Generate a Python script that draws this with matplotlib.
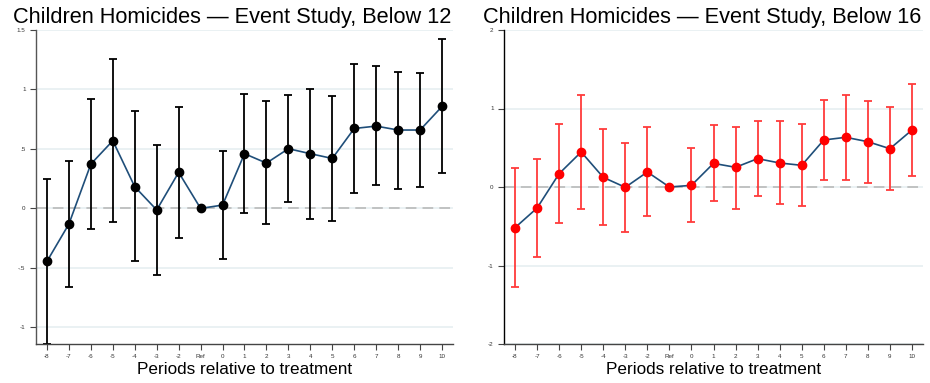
import matplotlib
matplotlib.use("Agg")
import matplotlib.pyplot as plt
import numpy as np

plt.rcParams['font.family'] = ['Liberation Sans', 'DejaVu Sans']

periods = [-8, -7, -6, -5, -4, -3, -2, -1, 0, 1, 2, 3, 4, 5, 6, 7, 8, 9, 10]
period_labels = ["-8", "-7", "-6", "-5", "-4", "-3", "-2", "Ref", "0",
                 "1", "2", "3", "4", "5", "6", "7", "8", "9", "10"]

# Below 12
coef12 = [-0.445, -0.131, 0.373, 0.569, 0.182, -0.013, 0.303, 0.0, 0.028,
          0.460, 0.381, 0.502, 0.460, 0.420, 0.672, 0.692, 0.659, 0.659, 0.857]
hi12 = [0.247, 0.395, 0.922, 1.255, 0.815, 0.535, 0.855, np.nan, 0.485,
        0.964, 0.902, 0.953, 1.008, 0.941, 1.218, 1.197, 1.146, 1.138, 1.424]
lo12 = [-1.14, -0.658, -0.176, -0.118, -0.445, -0.560, -0.246, np.nan, -0.428,
        -0.039, -0.134, 0.054, -0.087, -0.109, 0.126, 0.193, 0.166, 0.176, 0.294]

# Below 16
coef16 = [-0.518, -0.268, 0.170, 0.446, 0.123, -0.004, 0.191, 0.0, 0.021,
          0.301, 0.251, 0.361, 0.306, 0.276, 0.599, 0.633, 0.577, 0.488, 0.726]
hi16 = [0.246, 0.361, 0.803, 1.176, 0.739, 0.556, 0.760, np.nan, 0.493,
        0.786, 0.769, 0.837, 0.837, 0.798, 1.113, 1.168, 1.100, 1.015, 1.312]
lo16 = [-1.278, -0.887, -0.463, -0.280, -0.488, -0.569, -0.369, np.nan, -0.450,
        -0.183, -0.276, -0.110, -0.217, -0.242, 0.085, 0.093, 0.055, -0.042, 0.140]

yticks12 = [-1, -0.5, 0, 0.5, 1, 1.5]
ylabels12 = ["-1", "-.5", "0", ".5", "1", "1.5"]
yticks16 = [-2, -1, 0, 1, 2]
ylabels16 = ["-2", "-1", "0", "1", "2"]

W, H = 930, 383
fig = plt.figure(figsize=(W / 100, H / 100), dpi=100)


def panel(rect, coef, lo, hi, color, ecolor, ylim, yticks, ylabels, title, tx, spine):
    ax = fig.add_axes([rect[0] / W, 1 - rect[3] / H, (rect[2] - rect[0]) / W,
                       (rect[3] - rect[1]) / H])
    x = np.array(periods)
    c = np.array(coef)
    lo = np.array(lo)
    hi = np.array(hi)
    for yt in yticks:
        ax.axhline(yt, color="#e6eff1", lw=1.2, zorder=0)
    ax.axhline(0, color="#b5b5b5", lw=1.1, ls=(0, (7, 4)), zorder=1)
    ok = ~np.isnan(lo)
    ax.errorbar(x[ok], c[ok], yerr=[c[ok] - lo[ok], hi[ok] - c[ok]], fmt="none",
                ecolor=ecolor, elinewidth=1.3, capsize=3.2, capthick=1.3, zorder=2)
    ax.plot(x, c, color="#1f4e79", lw=1.2, zorder=3)
    ax.plot(x, c, "o", color=color, ms=6, zorder=4)
    ax.set_xlim(-8.5, 10.5)
    ax.set_ylim(*ylim)
    ax.set_xticks(periods)
    ax.set_xticklabels(period_labels, fontsize=4.5)
    ax.set_yticks(yticks)
    ax.set_yticklabels(ylabels, fontsize=4.5)
    ax.tick_params(axis="both", direction="out", length=4, width=0.8, pad=3.5,
                   color="#444444", labelcolor="#333333")
    for s in ["top", "right"]:
        ax.spines[s].set_visible(False)
    ax.spines["left"].set_color(spine)
    ax.spines["bottom"].set_color("#444444")
    ax.spines["left"].set_linewidth(1.0)
    ax.spines["bottom"].set_linewidth(1.0)
    ax.set_xlabel("Periods relative to treatment", fontsize=12.3, labelpad=1.5)
    fig.text(tx / W, 1 - 23 / H, title, fontsize=15.7, ha="center", va="baseline")
    return ax


panel((36, 30, 453, 344), coef12, lo12, hi12, "black", "black", (-1.14, 1.5),
      yticks12, ylabels12, "Children Homicides \u2014 Event Study, Below 12", 232,
      "#555555")
panel((504, 30, 923, 344), coef16, lo16, hi16, "#ff0000", "#ff3b3b", (-2, 2),
      yticks16, ylabels16, "Children Homicides \u2014 Event Study, Below 16", 702,
      "black")

fig.savefig("out.png", dpi=100)
